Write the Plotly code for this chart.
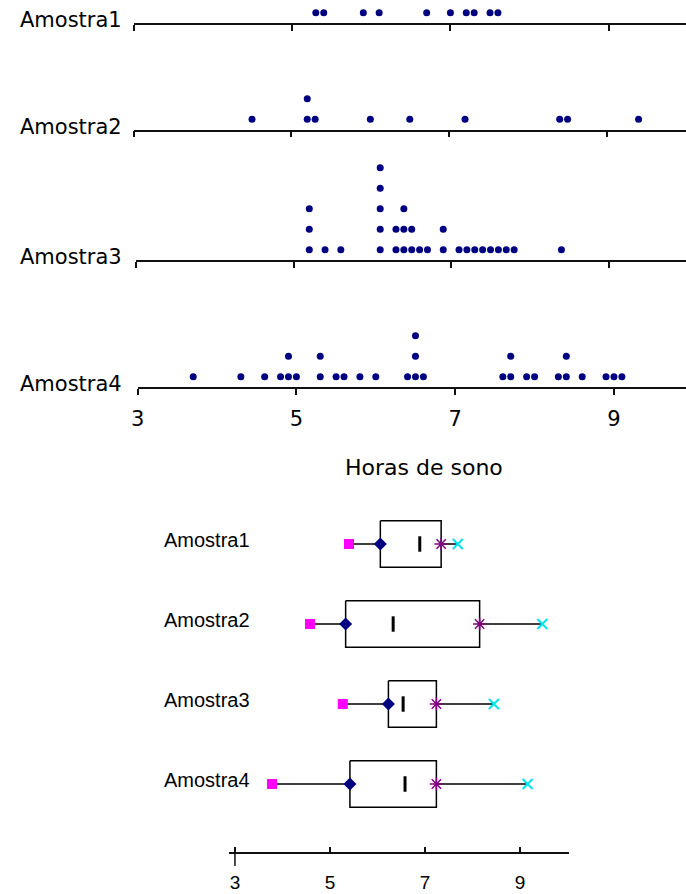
import plotly.graph_objects as go

W, H = 686, 894

# ---------------- data ----------------
samples = ["Amostra1", "Amostra2", "Amostra3", "Amostra4"]
amostra1 = [5.3, 5.4, 5.9, 6.1, 6.7, 7.0, 7.2, 7.3, 7.5, 7.6]
amostra2 = [4.5, 5.2, 5.2, 5.3, 6.0, 6.5, 7.2, 8.4, 8.5, 9.4]
amostra3 = [5.2, 5.2, 5.2, 5.4, 5.6, 6.1, 6.1, 6.1, 6.1, 6.1, 6.3, 6.3, 6.4, 6.4, 6.4,
            6.5, 6.5, 6.6, 6.7, 6.9, 6.9, 7.1, 7.2, 7.3, 7.4, 7.5, 7.6, 7.7, 7.8, 8.4]
amostra4 = [3.7, 4.3, 4.6, 4.8, 4.9, 4.9, 5.0, 5.3, 5.3, 5.5, 5.6, 5.8, 6.0, 6.4, 6.5,
            6.5, 6.5, 6.6, 7.6, 7.7, 7.7, 7.9, 8.0, 8.3, 8.4, 8.4, 8.6, 8.9, 9.0, 9.1]
dot_data = [amostra1, amostra2, amostra3, amostra4]

tick_vals = [3, 5, 7, 9]
tick_text = ["3", "5", "7", "9"]
x_title = "Horas de sono"

# box-plot summary values
box_min = [5.40, 4.58, 5.27, 3.78]
box_q1 = [6.06, 5.33, 6.23, 5.42]
box_med = [6.89, 6.33, 6.54, 6.58]
box_q3 = [7.34, 8.15, 7.24, 7.24]
box_max = [7.69, 9.47, 8.45, 9.16]

# ---------------- geometry (pixels) ----------------
rows_geom = [
    dict(axis_y=23, top=0, x3=128.0, ppu=80.0),
    dict(axis_y=129.5, top=89, x3=128.0, ppu=79.7),
    dict(axis_y=260, top=155, x3=130.3, ppu=79.6),
    dict(axis_y=387, top=322, x3=132.0, ppu=80.2),
]
LEVEL = 20.5
NAVY = "#000080"
DOT_FONT = "DejaVu Sans"
BOX_FONT = "Liberation Sans, Arial"

fig = go.Figure()
layout = dict(
    width=W, height=H, margin=dict(l=0, r=0, t=0, b=0),
    paper_bgcolor="white", plot_bgcolor="white", showlegend=False,
)
annotations = []
shapes = []

for i, (vals, g) in enumerate(zip(dot_data, rows_geom)):
    n = i + 1
    xa = "x" if n == 1 else f"x{n}"
    ya = "y" if n == 1 else f"y{n}"
    seen = {}
    ys = []
    for v in vals:
        k = seen.get(v, 0)
        seen[v] = k + 1
        ys.append(k + 0.5)
    fig.add_trace(go.Scatter(
        x=vals, y=ys, mode="markers", xaxis=xa, yaxis=ya,
        marker=dict(color=NAVY, size=7, line=dict(width=0)),
        hoverinfo="x",
    ))
    xkey = "xaxis" if n == 1 else f"xaxis{n}"
    ykey = "yaxis" if n == 1 else f"yaxis{n}"
    layout[xkey] = dict(
        domain=[g["x3"] / W, 1], range=[3, 3 + (W - g["x3"]) / g["ppu"]],
        anchor=ya, showline=True, linecolor="#111", linewidth=1.5,
        ticks="outside", ticklen=6, tickwidth=1.5, tickcolor="#111",
        tickvals=tick_vals, ticktext=tick_text, showgrid=False, zeroline=False,
        showticklabels=(n == 4),
        tickfont=dict(family=DOT_FONT, size=21, color="black"),
        ticklabelstandoff=6,
    )
    layout[ykey] = dict(
        domain=[1 - g["axis_y"] / H, 1 - g["top"] / H],
        range=[0, (g["axis_y"] - g["top"]) / LEVEL],
        anchor=xa, visible=False,
    )
    annotations.append(dict(
        text=samples[i], xref="paper", yref="paper", x=118 / W,
        y=1 - (g["axis_y"] - 3) / H, xanchor="right", yanchor="middle",
        showarrow=False, font=dict(family=DOT_FONT, size=21, color="black"),
    ))

annotations.append(dict(
    text=x_title, xref="paper", yref="paper", x=421 / W, y=1 - 467 / H,
    xanchor="center", yanchor="middle", showarrow=False,
    font=dict(family=DOT_FONT, size=22, color="black"),
))

# ---------------- box plot ----------------
HALF = 0.29
rows = [i + 1 for i in range(len(samples))]
wx, wy, bx, by = [], [], [], []
for r, mn, q1, q3, mx in zip(rows, box_min, box_q1, box_q3, box_max):
    wx += [mn, q1, None, q3, mx, None]
    wy += [r, r, None, r, r, None]
    bx += [q1, q3, q3, q1, q1, None]
    by += [r - HALF, r - HALF, r + HALF, r + HALF, r - HALF, None]

fig.add_trace(go.Scatter(x=wx, y=wy, mode="lines", xaxis="x5", yaxis="y5",
                         line=dict(color="black", width=1.5), hoverinfo="skip"))
fig.add_trace(go.Scatter(x=bx, y=by, mode="lines", xaxis="x5", yaxis="y5",
                         line=dict(color="black", width=1.5), hoverinfo="skip"))
fig.add_trace(go.Scatter(x=box_min, y=rows, mode="markers", xaxis="x5", yaxis="y5",
                         marker=dict(symbol="square", size=10, color="#FF00FF")))
fig.add_trace(go.Scatter(x=box_q1, y=rows, mode="markers", xaxis="x5", yaxis="y5",
                         marker=dict(symbol="diamond", size=10, color=NAVY)))
fig.add_trace(go.Scatter(x=box_med, y=rows, mode="markers", xaxis="x5", yaxis="y5",
                         marker=dict(symbol="line-ns", size=11, color="black",
                                     line=dict(color="black", width=3))))
fig.add_trace(go.Scatter(x=box_q3, y=rows, mode="markers", xaxis="x5", yaxis="y5",
                         marker=dict(symbol="asterisk-open", size=11, color="#800080",
                                     line=dict(color="#800080", width=1.5))))
fig.add_trace(go.Scatter(x=box_max, y=rows, mode="markers", xaxis="x5", yaxis="y5",
                         marker=dict(symbol="x-thin-open", size=10, color="#00E5EE",
                                     line=dict(color="#00E5EE", width=2))))

bx_left, bx_right, b_ppu, b_x3 = 224, 568, 48.0, 230.3
layout["xaxis5"] = dict(
    domain=[bx_left / W, bx_right / W],
    range=[3 + (bx_left - b_x3) / b_ppu, 3 + (bx_right - b_x3) / b_ppu],
    anchor="y5", showline=True, linecolor="#111", linewidth=1.5,
    ticks="inside", ticklen=5, tickwidth=1.5, tickcolor="#111",
    tickvals=tick_vals, ticktext=tick_text, showgrid=False, zeroline=False,
    tickfont=dict(family=BOX_FONT, size=19, color="black"),
    ticklabelstandoff=13,
)
layout["yaxis5"] = dict(
    domain=[1 - 851.7 / H, 1 - 490 / H], range=[4.846, 0.325],
    anchor="x5", visible=False,
)
shapes.append(dict(type="line", xref="x5", yref="paper", x0=3, x1=3,
                   y0=1 - 866 / H, y1=1 - 847 / H,
                   line=dict(color="#111", width=1.5)))
for r, name in zip(rows, samples):
    annotations.append(dict(
        text=name, xref="paper", yref="y5", x=248 / W, y=r - 0.05,
        xanchor="right", yanchor="middle", showarrow=False,
        font=dict(family=BOX_FONT, size=20, color="black"),
    ))

layout["annotations"] = annotations
layout["shapes"] = shapes
fig.update_layout(**layout)
fig.write_html(
    "out.html",
    config={"displayModeBar": False},
    post_script="document.body.style.margin='0';document.body.style.padding='0';",
)
